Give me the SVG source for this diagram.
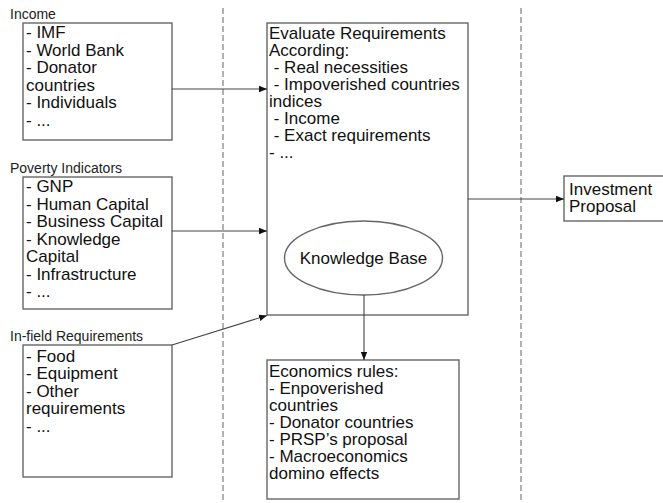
<svg xmlns="http://www.w3.org/2000/svg" width="663" height="503" viewBox="0 0 663 503">
  <defs>
    <marker id="arrow" viewBox="0 0 10 10" refX="10" refY="5" markerWidth="8" markerHeight="8" markerUnits="userSpaceOnUse" orient="auto">
      <path d="M0,1 L10,5 L0,9 z" fill="#111"/>
    </marker>
    <style>
      .box { fill: #fff; stroke: #666; stroke-width: 1.4; }
      .sep { stroke: #888; stroke-width: 1.3; stroke-dasharray: 6 3; fill: none; }
      .conn { stroke: #444; stroke-width: 1.1; fill: none; marker-end: url(#arrow); }
      text { font-family: "Liberation Sans", Arial, sans-serif; fill: #111; }
      .t { font-size: 17px; }
      .lbl { font-size: 14px; fill: #222; }
    </style>
  </defs>

  <rect width="663" height="503" fill="#fff"/>

  <!-- column separators -->
  <g id="separators">
    <line class="sep" x1="223" y1="8" x2="223" y2="503"/>
    <line class="sep" x1="521" y1="8" x2="521" y2="503"/>
  </g>

  <g id="income">
    <text class="lbl" x="10" y="19">Income</text>
    <rect class="box" x="23" y="23" width="149" height="117"/>
    <text class="t" x="26" y="38">- IMF</text>
    <text class="t" x="26" y="55.5">- World Bank</text>
    <text class="t" x="26" y="73">- Donator</text>
    <text class="t" x="26" y="90.5">countries</text>
    <text class="t" x="26" y="108">- Individuals</text>
    <text class="t" x="26" y="125.5">- ...</text>
  </g>

  <g id="poverty-indicators">
    <text class="lbl" x="10" y="173">Poverty Indicators</text>
    <rect class="box" x="23" y="177" width="149" height="132"/>
    <text class="t" x="26" y="192">- GNP</text>
    <text class="t" x="26" y="209.5">- Human Capital</text>
    <text class="t" x="26" y="227">- Business Capital</text>
    <text class="t" x="26" y="244.5">- Knowledge</text>
    <text class="t" x="26" y="262">Capital</text>
    <text class="t" x="26" y="279.5">- Infrastructure</text>
    <text class="t" x="26" y="297">- ...</text>
  </g>

  <g id="infield-requirements">
    <text class="lbl" x="10" y="341">In-field Requirements</text>
    <rect class="box" x="23" y="345" width="149" height="132"/>
    <text class="t" x="26" y="361.5">- Food</text>
    <text class="t" x="26" y="379">- Equipment</text>
    <text class="t" x="26" y="396.5">- Other</text>
    <text class="t" x="26" y="414">requirements</text>
    <text class="t" x="26" y="431.5">- ...</text>
  </g>

  <g id="evaluate-requirements">
    <rect class="box" x="267" y="23" width="201" height="292"/>
    <text class="t" x="269" y="39">Evaluate Requirements</text>
    <text class="t" x="269" y="56">According:</text>
    <text class="t" x="269" y="73" xml:space="preserve"> - Real necessities</text>
    <text class="t" x="269" y="90" xml:space="preserve"> - Impoverished countries</text>
    <text class="t" x="269" y="107">indices</text>
    <text class="t" x="269" y="124" xml:space="preserve"> - Income</text>
    <text class="t" x="269" y="141" xml:space="preserve"> - Exact requirements</text>
    <text class="t" x="269" y="158">- ...</text>
  </g>

  <g id="knowledge-base">
    <ellipse class="box" cx="363.5" cy="258" rx="79" ry="37"/>
    <text class="t" x="363.5" y="264" text-anchor="middle">Knowledge Base</text>
  </g>

  <g id="economics-rules">
    <rect class="box" x="267" y="360" width="192" height="139"/>
    <text class="t" x="269" y="377">Economics rules:</text>
    <text class="t" x="269" y="394">- Enpoverished</text>
    <text class="t" x="269" y="411">countries</text>
    <text class="t" x="269" y="428">- Donator countries</text>
    <text class="t" x="269" y="445">- PRSP’s proposal</text>
    <text class="t" x="269" y="462">- Macroeconomics</text>
    <text class="t" x="269" y="479">domino effects</text>
  </g>

  <g id="investment-proposal">
    <rect class="box" x="564" y="176" width="110" height="45"/>
    <text class="t" x="569" y="195">Investment</text>
    <text class="t" x="569" y="212">Proposal</text>
  </g>

  <!-- connectors -->
  <g id="connectors">
    <line class="conn" x1="172" y1="89" x2="267" y2="89"/>
    <line class="conn" x1="172" y1="231" x2="267" y2="231"/>
    <line class="conn" x1="172" y1="345" x2="267" y2="315.5"/>
    <line class="conn" x1="468" y1="199" x2="564" y2="199"/>
    <line class="conn" x1="364" y1="295" x2="364" y2="360"/>
  </g>
</svg>
